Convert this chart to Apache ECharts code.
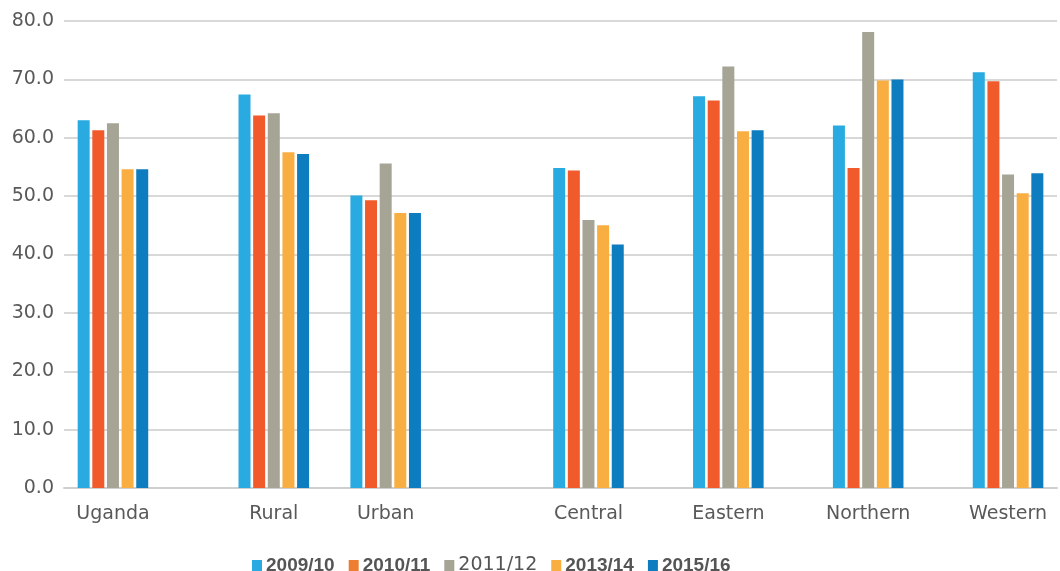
<!DOCTYPE html>
<html>
<head>
<meta charset="utf-8">
<script src="https://cdn.jsdelivr.net/npm/echarts@6/dist/echarts.min.js"></script>
<style>
html, body { margin: 0; padding: 0; background: #fff; }
#chart { width: 1060px; height: 571px; }
</style>
</head>
<body>
<div id="chart"></div>
<script>
// data
const regions = ['Uganda', 'Rural', 'Urban', 'Central', 'Eastern', 'Northern', 'Western'];
const years = ['2009/10', '2010/11', '2011/12', '2013/14', '2015/16'];
const v0910 = [63.0, 67.4, 50.1, 54.8, 67.1, 62.1, 71.2];
const v1011 = [61.3, 63.8, 49.3, 54.4, 66.4, 54.8, 69.7];
const v1112 = [62.5, 64.2, 55.6, 45.9, 72.2, 78.1, 53.7];
const v1314 = [54.6, 57.5, 47.1, 45.0, 61.1, 69.8, 50.5];
const v1516 = [54.6, 57.2, 47.1, 41.7, 61.3, 70.0, 53.9];
const yTicks = [0, 10, 20, 30, 40, 50, 60, 70, 80];

// layout: the groups are unevenly spaced, so the category axis uses
// fine blank slots and each region sits on one of them
const slotOf = [7, 30, 46, 75, 95, 115, 135];
const slotCount = 143;

const colors = ['#29abe2', '#f15a2b', '#a6a495', '#f9ae42', '#0e7dc0'];
const legendColors = ['#29abe2', '#ed7d31', '#a6a495', '#f9ae42', '#0e7dc0'];
const boldLegend = { '2009/10': true, '2010/11': true, '2011/12': false, '2013/14': true, '2015/16': true };

let cats = new Array(slotCount).fill('');
regions.forEach((r, i) => { cats[slotOf[i]] = r; });

function spread(vals) {
    let arr = new Array(slotCount).fill(null);
    vals.forEach((v, i) => { arr[slotOf[i]] = v; });
    return arr;
}

const allVals = [v0910, v1011, v1112, v1314, v1516];

let chart = echarts.init(document.getElementById('chart'));
let option = {
    animation: false,
    grid: {
        left: 64,
        top: 21,
        width: 996,
        bottom: 83,
        containLabel: false
    },
    legend: {
        left: 247,
        top: 551,
        itemWidth: 10,
        itemHeight: 11,
        itemGap: 14,
        icon: 'rect',
        selectedMode: false,
        data: years.map((y, i) => ({ name: y, itemStyle: { color: legendColors[i] } })),
        formatter: function (name) {
            return boldLegend[name] ? '{b|' + name + '}' : '{r|' + name + '}';
        },
        textStyle: {
            padding: [0, 0, 0, -1],
            rich: {
                b: { fontFamily: 'Liberation Sans', fontWeight: 'bold', fontSize: 19, color: '#555555' },
                r: { fontFamily: 'DejaVu Sans', fontSize: 19, color: '#555555' }
            }
        }
    },
    xAxis: {
        type: 'category',
        data: cats,
        boundaryGap: false,
        axisLine: { show: true, lineStyle: { color: '#cfcfcf', width: 2 } },
        axisTick: { show: false },
        axisLabel: {
            interval: 0,
            margin: 17,
            fontFamily: 'DejaVu Sans',
            fontSize: 19,
            color: '#595959'
        },
        splitLine: { show: false }
    },
    yAxis: {
        type: 'value',
        min: yTicks[0],
        max: yTicks[yTicks.length - 1],
        interval: 10,
        axisLine: { show: false },
        axisTick: { show: false },
        axisLabel: {
            margin: 10,
            fontFamily: 'DejaVu Sans',
            fontSize: 19,
            color: '#595959',
            formatter: v => v.toFixed(1)
        },
        splitLine: { lineStyle: { color: '#cbcbcb', width: 1.5 } }
    },
    series: years.map((y, i) => ({
        name: y,
        type: 'bar',
        barWidth: 12,
        barGap: '22%',
        itemStyle: { color: colors[i] },
        data: spread(allVals[i])
    }))
};
chart.setOption(option);
</script>
</body>
</html>
